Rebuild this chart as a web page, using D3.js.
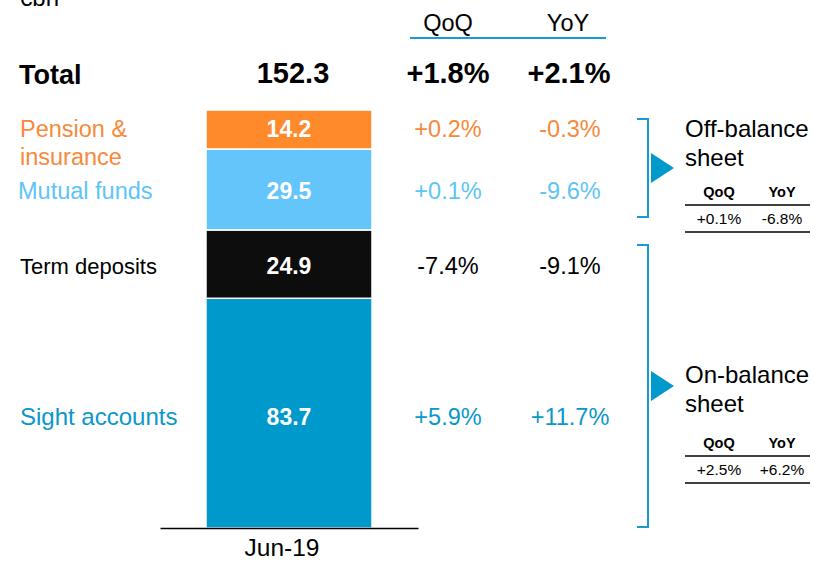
<!DOCTYPE html>
<html>
<head>
<meta charset="utf-8">
<script src="https://cdn.jsdelivr.net/npm/d3@7"></script>
<style>
  html, body { margin: 0; padding: 0; background: #fff; }
  svg { display: block; font-family: "Liberation Sans", Arial, sans-serif; }
</style>
</head>
<body>
<svg id="chart" width="814" height="562"></svg>
<script>
// ---------- data ----------
const period = ["Jun-19"];
const categories = ["Sight accounts", "Term deposits", "Mutual funds", "Pension &\ninsurance"];
const values = [83.7, 24.9, 29.5, 14.2];
const qoq = ["+5.9%", "-7.4%", "+0.1%", "+0.2%"];
const yoy = ["+11.7%", "-9.1%", "-9.6%", "-0.3%"];
const total = 152.3;
const totalQoQ = "+1.8%";
const totalYoY = "+2.1%";
const groups = ["Off-balance\nsheet", "On-balance\nsheet"];
const groupQoQ = ["+0.1%", "+2.5%"];
const groupYoY = ["-6.8%", "+6.2%"];
const unitLabel = "€bn";

// ---------- styles ----------
const barColors = ["#0099CC", "#0D0D0D", "#63C5FA", "#FF8A2B"];
const textColors = ["#0A97CA", "#000000", "#5EC4F6", "#F7893A"];
const labelSizes = [24, 22, 23.5, 23.5];
const accent = "#1A9AD4";

const svg = d3.select("#chart");

const x = d3.scaleBand().domain(period).range([160, 418]).paddingInner(0.217).paddingOuter(0.217);
const y = d3.scaleLinear().domain([0, total]).range([528, 110]);

const colQ = 448, colY = 570;

// stacked data
const row = {};
categories.forEach((c, i) => row[c] = values[i]);
const stack = d3.stack().keys(categories)([row]);

// ---------- header ----------
svg.append("text").attr("x", 19).attr("y", 6).attr("font-size", 24).text(unitLabel);

svg.append("text").attr("x", colQ).attr("y", 31).attr("text-anchor", "middle").attr("font-size", 23.5).text("QoQ");
svg.append("text").attr("x", colY - 2).attr("y", 31).attr("text-anchor", "middle").attr("font-size", 23.5).text("YoY");
svg.append("line").attr("x1", 410).attr("x2", 606).attr("y1", 38).attr("y2", 38)
  .attr("stroke", accent).attr("stroke-width", 2);

svg.append("text").attr("x", 19).attr("y", 84).attr("font-size", 27).attr("font-weight", "bold").text("Total");
svg.append("text").attr("x", x(period[0]) + x.bandwidth() / 2 + 4).attr("y", 83).attr("text-anchor", "middle")
  .attr("font-size", 29).attr("font-weight", "bold").text(total.toFixed(1));
svg.append("text").attr("x", colQ).attr("y", 83).attr("text-anchor", "middle")
  .attr("font-size", 29).attr("font-weight", "bold").text(totalQoQ);
svg.append("text").attr("x", colY - 1).attr("y", 83).attr("text-anchor", "middle")
  .attr("font-size", 29).attr("font-weight", "bold").text(totalYoY);

// ---------- bars ----------
const segs = svg.append("g");
stack.forEach((layer, i) => {
  const d = layer[0];
  segs.append("rect")
    .attr("x", x(period[0]))
    .attr("width", x.bandwidth())
    .attr("y", y(d[1]))
    .attr("height", y(d[0]) - y(d[1]))
    .attr("fill", barColors[i])
    .attr("stroke", "#fff")
    .attr("stroke-width", 1.5);
});

// segment labels and rows
stack.forEach((layer, i) => {
  const d = layer[0];
  const cy = (y(d[0]) + y(d[1])) / 2 + 10 + (i === 0 ? 2 : 0);
  const lines = categories[i].split("\n");
  const ry = cy - (lines.length > 1 ? 2 : 0);
  svg.append("text")
    .attr("x", x(period[0]) + x.bandwidth() / 2).attr("y", ry)
    .attr("text-anchor", "middle").attr("font-size", 23).attr("font-weight", "bold")
    .attr("fill", "#fff").text(values[i].toFixed(1));
  const lbl = svg.append("text").attr("x", 20).attr("y", ry)
    .attr("font-size", labelSizes[i]).attr("fill", textColors[i]);
  lines.forEach((t, k) => lbl.append("tspan").attr("x", i === 2 ? 18 : 20).attr("dy", k === 0 ? 0 : 28).text(t));
  svg.append("text").attr("x", colQ).attr("y", ry).attr("text-anchor", "middle")
    .attr("font-size", 23.5).attr("fill", textColors[i]).text(qoq[i]);
  svg.append("text").attr("x", colY).attr("y", ry).attr("text-anchor", "middle")
    .attr("font-size", 23.5).attr("fill", textColors[i]).text(yoy[i]);
});

// ---------- axis ----------
const axis = svg.append("g").attr("transform", "translate(0,528)")
  .call(d3.axisBottom(x).tickSize(0).tickSizeOuter(0).tickPadding(11));
axis.select(".domain").attr("stroke", "#000").attr("stroke-width", 1.5);
axis.selectAll(".tick text").attr("font-size", 24.5).attr("font-family", "Liberation Sans, Arial, sans-serif")
  .attr("fill", "#000").attr("dx", -7);

// ---------- brackets ----------
const boundary = y(values[0] + values[1]); // off/on boundary
const brackets = [
  { top: y(total) + 9, bottom: boundary - 13 },
  { top: boundary + 15, bottom: y(0) - 1 }
];
const textTop = [137, 383];
brackets.forEach((b, i) => {
  const bx = 648;
  svg.append("path")
    .attr("d", `M${bx - 11},${b.top}H${bx}V${b.bottom}H${bx - 11}`)
    .attr("fill", "none").attr("stroke", accent).attr("stroke-width", 2);
  const mid = (b.top + b.bottom) / 2;
  svg.append("path")
    .attr("d", `M${bx + 3},${mid - 15}L${bx + 26},${mid}L${bx + 3},${mid + 15}Z`)
    .attr("fill", "#0099CC");
  const lines = groups[i].split("\n");
  const t = svg.append("text").attr("x", 685).attr("y", textTop[i]).attr("font-size", 24).attr("fill", "#000");
  lines.forEach((s, k) => t.append("tspan").attr("x", 685).attr("dy", k === 0 ? 0 : 29).text(s));
  const hy = textTop[i] + 60 + (i === 1 ? 5 : 0);
  svg.append("text").attr("x", 719).attr("y", hy).attr("text-anchor", "middle")
    .attr("font-size", 14.5).attr("font-weight", "bold").text("QoQ");
  svg.append("text").attr("x", 782).attr("y", hy).attr("text-anchor", "middle")
    .attr("font-size", 14.5).attr("font-weight", "bold").text("YoY");
  svg.append("line").attr("x1", 685).attr("x2", 810).attr("y1", hy + 8).attr("y2", hy + 8)
    .attr("stroke", "#000").attr("stroke-width", 1.5);
  svg.append("text").attr("x", 719).attr("y", hy + 27).attr("text-anchor", "middle")
    .attr("font-size", 15.5).text(groupQoQ[i]);
  svg.append("text").attr("x", 782).attr("y", hy + 27).attr("text-anchor", "middle")
    .attr("font-size", 15.5).text(groupYoY[i]);
  svg.append("line").attr("x1", 685).attr("x2", 810).attr("y1", hy + 35).attr("y2", hy + 35)
    .attr("stroke", "#000").attr("stroke-width", 1.5);
});
</script>
</body>
</html>
